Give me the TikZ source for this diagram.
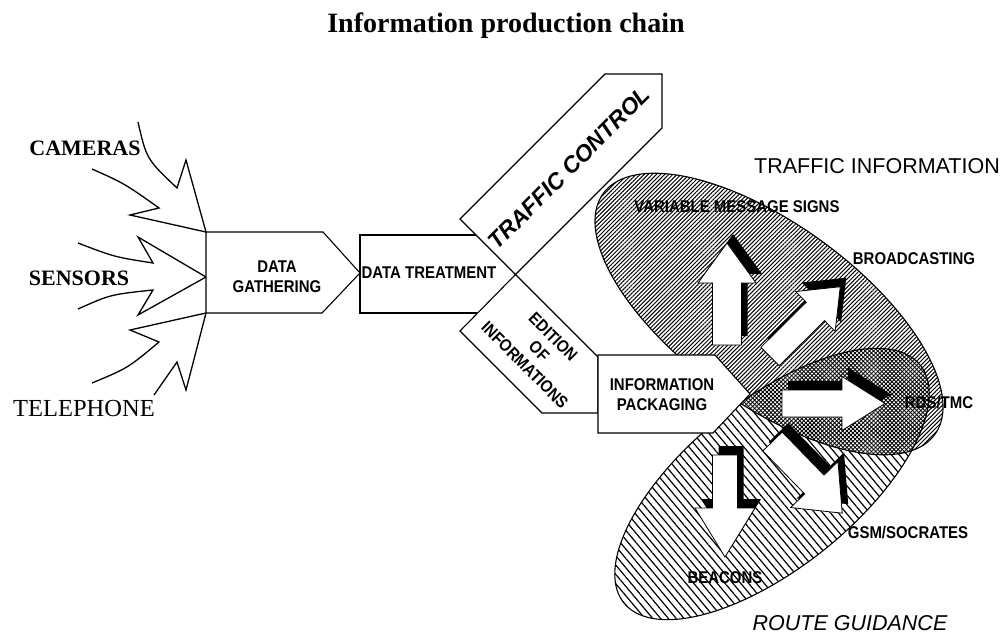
\documentclass[tikz,border=0pt]{standalone}
\usepackage{fontspec}
\setmainfont{Liberation Serif}
\newfontfamily\arialfont{Liberation Sans}
\newfontfamily\condfont{Liberation Sans}[FakeStretch=0.88]
\usetikzlibrary{patterns.meta}

% the two service ellipses (pixel frame, y grows downward)
\newcommand\infoellipse{plot[domain=0:360,samples=200,variable=\t]
  ({769+165.8*cos(\t)-52.9*sin(\t)},{314+120.5*cos(\t)+72.8*sin(\t)}) -- cycle}
\newcommand\guideellipse{plot[domain=0:360,samples=200,variable=\t]
  ({772+148.2*cos(\t)+52.5*sin(\t)},{484-118.8*cos(\t)+65.5*sin(\t)}) -- cycle}

% block arrow with a black offset shadow:
% #1 tail centre, #2 direction, #3 length, #4 head length, #5 head half-width, #6 shaft half-width
\newcommand\blockarrow[6]{%
  \begin{scope}[shift={#1}, shift={(6,-9)}, rotate=#2]
    \fill[black] (0,-#6) -- ({#3-#4},-#6) -- ({#3-#4},-#5) -- (#3,0)
      -- ({#3-#4},#5) -- ({#3-#4},#6) -- (0,#6) -- cycle;
  \end{scope}
  \begin{scope}[shift={#1}, rotate=#2]
    \draw[fill=white, line width=0.8pt, line join=miter] (0,-#6) -- ({#3-#4},-#6)
      -- ({#3-#4},-#5) -- (#3,0) -- ({#3-#4},#5) -- ({#3-#4},#6) -- (0,#6) -- cycle;
  \end{scope}}

\begin{document}
\begin{tikzpicture}[x=1pt,y=-1pt,
  stage/.style={draw=black, line width=1.1pt, fill=white, line join=miter},
  bolt/.style={draw=black, line width=1.3pt, line join=miter},
  boxtext/.style={font=\condfont\bfseries\fontsize{17}{20}\selectfont, align=center, inner sep=0pt},
  source/.style={font=\bfseries\fontsize{22}{26}\selectfont, anchor=base, inner sep=0pt},
]
\useasboundingbox (0,0) rectangle (1003,634);

% ---- title
\node[anchor=base, inner sep=0pt, font=\bfseries\fontsize{28}{32}\selectfont] (title)
  at (506,33) {Information production chain};

% ---- data sources
\node[source] (cameras) at (85,155) {CAMERAS};
\node[source] (sensors) at (79,285) {SENSORS};
\node[anchor=base, inner sep=0pt, font=\fontsize{24.5}{28}\selectfont] (telephone)
  at (84,416) {TELEPHONE};

\coordinate (dg-nw) at (206,232);
\coordinate (dg-w)  at (206,277);
\coordinate (dg-sw) at (206,313);
\coordinate (dg-tip) at (360,273);

\draw[bolt] (138,122) .. controls (146.5,159) .. (177,188) -- (186,160) -- (dg-nw);
\draw[bolt] (92,169) .. controls (124.5,183.5) .. (159,208) -- (130,215) -- (dg-nw);
\draw[bolt] (78,243) .. controls (114.5,257) .. (153,263) -- (138,237) -- (dg-w);
\draw[bolt] (78,309) .. controls (110.5,294.5) .. (153,290) -- (138,315) -- (dg-w);
\draw[bolt] (92,383) .. controls (128,368) .. (159,342) -- (130,330) -- (dg-sw);
\draw[bolt] (154,395) -- (177,362) -- (186,390) -- (dg-sw);

% ---- service ellipses
\fill[pattern={Lines[angle=-50,distance=6pt,line width=1.2pt]}] \guideellipse;
\fill[pattern={Lines[angle=45,distance=2.9pt,line width=1pt]}] \infoellipse;
\begin{scope}
  \clip \infoellipse;
  \fill[white] \guideellipse;
  \fill[pattern={Lines[angle=45,distance=2.9pt,line width=0.9pt]}] \guideellipse;
  \fill[pattern={Lines[angle=-45,distance=2.9pt,line width=0.9pt]}] \guideellipse;
\end{scope}
\draw[line width=1.1pt] \infoellipse;
\draw[line width=1.1pt] \guideellipse;

% ---- processing chain
\draw[stage] (dg-nw) -- (323,232) -- (dg-tip) -- (322,313) -- (dg-sw) -- cycle;

\coordinate (cross) at (515.5,274.5);
\fill[white] (360,235) -- (476,235) -- (cross) -- (477,313) -- (360,313) -- cycle;
\draw[line width=1.1pt, line join=miter] (476,235) -- (360,235) -- (360,313) -- (477,313);
\draw[stage] (460,219) -- (605,74) -- (662,74) -- (662,128) -- (cross) -- cycle;
\draw[stage] (460,331) -- (cross) -- (598,357) -- (598,413) -- (542,413) -- cycle;
\draw[stage] (598,355) -- (715,355) -- (750,394) -- (713,433) -- (598,433) -- cycle;

\node[boxtext] (gathering) at (277,277) {DATA\\GATHERING};
\node[boxtext] (treatment) at (429,273) {DATA TREATMENT};
\node[boxtext, rotate=-45] (edition) at (539,351) {EDITION\\OF\\INFORMATIONS};
\node[boxtext] (packaging) at (662,395) {INFORMATION\\PACKAGING};
\node[inner sep=0pt, rotate=45, font=\arialfont\bfseries\itshape\fontsize{23}{27}\selectfont]
  (control) at (569,168) {TRAFFIC CONTROL};

% ---- distribution channels
\blockarrow{(727,345)}{90}{102}{40}{29}{14.5}
\blockarrow{(770,356.5)}{44.8}{99}{35}{28}{13}
\blockarrow{(782,403.5)}{0}{103}{43}{27}{13.5}
\blockarrow{(772.5,441.5)}{-45.8}{100}{40}{33}{13.5}
\blockarrow{(725,455)}{-90}{102}{49}{30}{12.5}

\node[boxtext, anchor=base] (vms) at (737,212) {VARIABLE MESSAGE SIGNS};
\node[boxtext, anchor=base] (broadcast) at (914,264) {BROADCASTING};
\node[boxtext, anchor=base] (rds) at (939,408) {RDS/TMC};
\node[boxtext, anchor=base] (gsm) at (908,538) {GSM/SOCRATES};
\node[boxtext, anchor=base] (beacons) at (725,583) {BEACONS};

\node[anchor=base, inner sep=0pt, font=\arialfont\fontsize{21.5}{25}\selectfont] (info)
  at (877,173) {TRAFFIC INFORMATION};
\node[anchor=base, inner sep=0pt, font=\arialfont\itshape\fontsize{21.5}{25}\selectfont] (guide)
  at (850,630) {ROUTE GUIDANCE};
\end{tikzpicture}
\end{document}
